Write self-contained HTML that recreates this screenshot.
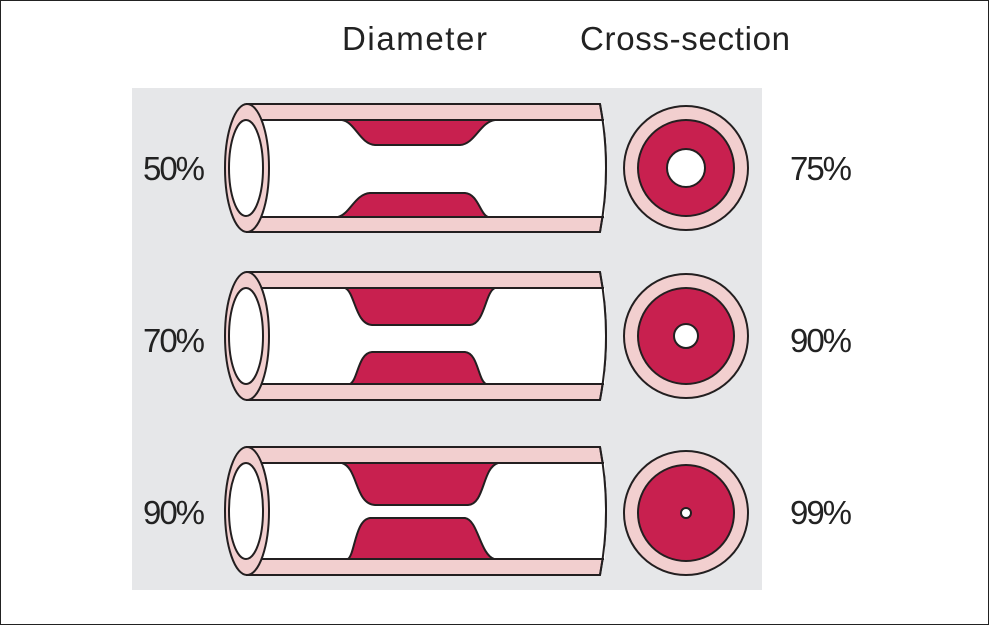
<!DOCTYPE html>
<html><head><style>
body{margin:0;background:#fff;}
svg{display:block;}
text{font-family:"Liberation Sans",sans-serif;fill:#222;}
</style></head><body>
<svg width="989" height="625" viewBox="0 0 989 625" xmlns="http://www.w3.org/2000/svg">
<rect x="0.5" y="0.5" width="988" height="624" fill="#fff" stroke="#222" stroke-width="1"/>
<text x="342" y="50" font-size="33" textLength="145">Diameter</text>
<text x="580" y="50" font-size="33" textLength="210">Cross-section</text>
<rect x="132" y="88" width="630" height="502" fill="#e6e7e9"/>
<g stroke="#231f20" stroke-width="2">
<g>
<path d="M247,104 L600,104 Q612,168 600,232 L247,232 Z" fill="#f2cfcf"/>
<rect x="247" y="120" width="358" height="97" fill="#fff" stroke="none"/>
<line x1="260" y1="120" x2="604" y2="120"/><line x1="260" y1="217" x2="604" y2="217"/>
<path d="M600,104 Q612,168 600,232" fill="none"/>
<path d="M342,120 C355,122 360,144 375,145 L460,145 C475,144 480,122 495,120 Z" fill="#c8204f"/>
<path d="M338,217 C350,214 355,194 370,193 L465,193 C478,194 480,214 488,217 Z" fill="#c8204f"/>
<ellipse cx="247" cy="168" rx="22" ry="64" fill="#f2cfcf"/>
<ellipse cx="246" cy="168" rx="17" ry="48" fill="#fff"/>
<circle cx="686" cy="168" r="62" fill="#f2cfcf"/>
<circle cx="686" cy="168" r="48" fill="#c8204f"/>
<circle cx="686" cy="168" r="19" fill="#fff"/>
</g>
<g>
<path d="M247,272 L600,272 Q612,336 600,400 L247,400 Z" fill="#f2cfcf"/>
<rect x="247" y="288" width="358" height="96" fill="#fff" stroke="none"/>
<line x1="260" y1="288" x2="604" y2="288"/><line x1="260" y1="384" x2="604" y2="384"/>
<path d="M600,272 Q612,336 600,400" fill="none"/>
<path d="M345,288 C355,292 355,324 372,325 L470,325 C485,324 485,292 495,288 Z" fill="#c8204f"/>
<path d="M350,384 C358,380 358,353 372,352 L465,352 C478,353 478,380 486,384 Z" fill="#c8204f"/>
<ellipse cx="247" cy="336" rx="22" ry="64" fill="#f2cfcf"/>
<ellipse cx="246" cy="336" rx="17" ry="48" fill="#fff"/>
<circle cx="686" cy="336" r="62" fill="#f2cfcf"/>
<circle cx="686" cy="336" r="48" fill="#c8204f"/>
<circle cx="686" cy="336" r="12" fill="#fff"/>
</g>
<g>
<path d="M247,447 L600,447 Q612,511 600,575 L247,575 Z" fill="#f2cfcf"/>
<rect x="247" y="463" width="358" height="96" fill="#fff" stroke="none"/>
<line x1="260" y1="463" x2="604" y2="463"/><line x1="260" y1="559" x2="604" y2="559"/>
<path d="M600,447 Q612,511 600,575" fill="none"/>
<path d="M342,463 C358,468 355,504 375,505 L468,505 C485,504 482,468 498,463 Z" fill="#c8204f"/>
<path d="M348,559 C355,554 355,520 370,518 L465,518 C478,520 480,554 494,559 Z" fill="#c8204f"/>
<ellipse cx="247" cy="511" rx="22" ry="64" fill="#f2cfcf"/>
<ellipse cx="246" cy="511" rx="17" ry="48" fill="#fff"/>
<circle cx="686" cy="513" r="62" fill="#f2cfcf"/>
<circle cx="686" cy="513" r="48" fill="#c8204f"/>
<circle cx="686" cy="513" r="5" fill="#fff"/>
</g>
</g>
<text x="143" y="180" font-size="33" textLength="62">50%</text>
<text x="143" y="352" font-size="33" textLength="62">70%</text>
<text x="143" y="524" font-size="33" textLength="62">90%</text>
<text x="790" y="180" font-size="33" textLength="62">75%</text>
<text x="790" y="352" font-size="33" textLength="62">90%</text>
<text x="790" y="524" font-size="33" textLength="62">99%</text>
</svg>
</body></html>
